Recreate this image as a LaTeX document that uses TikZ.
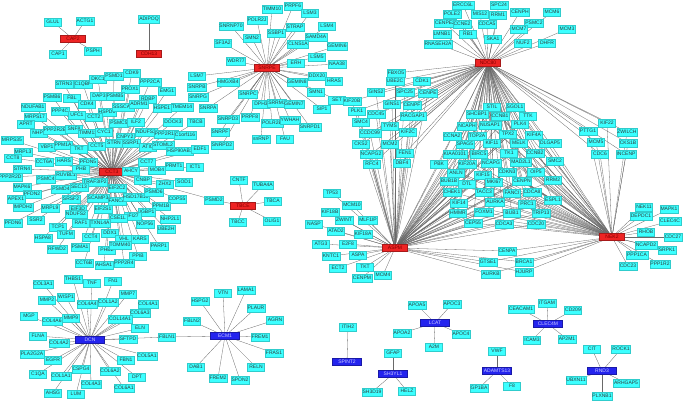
\documentclass[tikz,border=0pt]{standalone}
\usepackage{fontspec}
\setmainfont{Liberation Sans}
\usetikzlibrary{backgrounds}
\definecolor{genecyan}{RGB}{60,255,255}
\definecolor{genetext}{RGB}{50,60,60}
\definecolor{hubred}{RGB}{238,36,36}
\definecolor{hubredtext}{RGB}{130,0,0}
\definecolor{hubblue}{RGB}{36,36,238}
\definecolor{hubbluetext}{RGB}{205,205,255}
\definecolor{linkgray}{RGB}{105,105,105}

\begin{document}
\begin{tikzpicture}[x=1pt, y=-1pt,
    every node/.style = {font=\fontsize{5}{6}\selectfont},
    gene/.style = {draw=genecyan!80!black, line width=0.2pt, fill=genecyan, text=genetext,
        minimum width=17pt, minimum height=7.5pt, inner xsep=0.8pt, inner ysep=0pt},
    hubred/.style = {gene, fill=hubred, draw=hubred!70!black, text=hubredtext, minimum width=25pt, minimum height=7pt},
    hubblue/.style = {gene, fill=hubblue, draw=hubblue!70!black, text=hubbluetext, minimum width=29pt, minimum height=7pt},
    link/.style = {draw=linkgray, line width=0.3pt}]
\useasboundingbox (0,0) rectangle (685,402);

% hubs
\node[hubred] (CAP2) at (73,39) {CAP2};
\node[hubred] (CDH13) at (149,54) {CDH13};
\node[hubred] (SNRPE) at (267,68) {SNRPE};
\node[hubred] (CCT3) at (112,172) {CCT3};
\node[hubred] (TBCE) at (243,206) {TBCE};
\node[hubred] (NDC80) at (488,63) {NDC80};
\node[hubred] (ASPM) at (395,248) {ASPM};
\node[hubred] (NEK2) at (612,237) {NEK2};
\node[hubblue] (DCN) at (90,340) {DCN};
\node[hubblue] (ECM1) at (225,336) {ECM1};
\node[hubblue] (SPINT2) at (347,362) {SPINT2};
\node[hubblue] (LCAT) at (435,323) {LCAT};
\node[hubblue] (SH3YL1) at (393,374) {SH3YL1};
\node[hubblue] (ADAMTS13) at (497,371) {ADAMTS13};
\node[hubblue] (CLEC4M) at (548,324) {CLEC4M};
\node[hubblue] (RND3) at (602,371) {RND3};

% small groups
\foreach \x/\y/\g in {53/22/GLUL, 85/21/ACTG1, 58/54/CAP1, 93/51/PSPH, 149/19/ADIPOQ,
    239/180/CNTF, 263/185/TUBA4A, 273/201/TBCA, 238/222/TBCC, 272/221/OLIG1, 214/200/PSMD2}
    \node[gene] (\g) at (\x,\y) {\g};

% CCT3 group
\foreach \x/\y/\g in {64/84/STRN3, 83/84/C1QBP, 98/79/DKC1, 114/76/PSMD1, 132/73/CDK9,
    150/82/PPP2CA, 130/89/PROX1, 167/91/EMG1, 52/97/PSMB6, 72/98/FBL, 99/96/DAP3,
    115/96/PSMB5, 87/104/CDK4, 148/99/RDBP, 33/107/NDUFAB1, 60/111/PPP4C, 77/115/UFC1,
    107/112/HSPD1, 123/107/SSSCA1, 139/104/ADRM1, 162/108/HSPE1, 182/107/TMEM14,
    35/117/MRPS17, 94/117/CCT2, 119/123/PSMC5, 136/122/ILF2, 173/122/DOCK3, 196/122/TBCB,
    26/124/APRT, 39/133/NHP2, 55/130/PPP2R2B, 74/129/SNF8, 88/133/TIMM13, 104/132/CYC1,
    125/137/CNPY2, 146/132/NDUFS3, 166/134/PPP2R1A, 185/135/C1orf116, 12/140/MRPS35,
    47/147/VBP1, 63/145/PPM1A, 79/149/TKT, 97/146/CCT5, 114/143/STRN, 131/143/SSRP1,
    148/147/ATIC, 163/145/STOML2, 180/151/HSP90AB1, 200/149/EDF1, 23/152/MRPL3,
    13/158/CCT8, 44/162/CCT6A, 64/161/HARS, 88/162/PFDN5, 147/162/CCT7, 131/171/AHCY,
    157/170/MOB4, 174/166/PRMT1, 195/167/ICT1, 22/169/STRN4, 10/177/PPP2R2D,
    46/179/PSMC4, 66/175/RUVBL1, 81/169/PHB, 95/182/TRAF3IP2, 117/188/EIF2C2,
    143/180/CNBP, 165/184/ZHX2, 184/182/SOD1, 22/187/MAPK6, 61/189/PSMD4, 79/187/SEC13,
    32/194/PFDN2, 71/199/SRSF2, 98/198/SCAMP3, 117/201/FANCA, 136/197/HSD17B10,
    154/192/PSMD6, 177/199/COPS5, 16/199/APEX1, 23/207/IMPDH2, 50/208/MRPL9, 78/209/EIF3D,
    103/209/EIF2S1, 161/206/PPM1B, 147/212/IGBP1, 133/216/IFI27, 76/214/NDUFS2,
    118/218/CSE1L, 170/219/NHP2L1, 13/223/PFDN6, 36/220/SSR2, 58/227/TCP1, 81/223/RAF1,
    100/223/TXNL4A, 145/224/NOP56, 166/229/UBE2H, 43/238/HSPA8, 66/234/TUFM, 91/237/CCT4,
    110/233/DDX1, 124/239/VHL, 140/239/KARS, 159/246/PARP1, 57/249/RFWD2, 80/247/PSMA1,
    107/250/PHB2, 120/245/TOMM40, 138/256/PPIB, 84/263/CCT6B, 104/265/AHSA1, 124/263/PPP2R4}
    \node[gene] (\g) at (\x,\y) {\g};

% SNRPE group
\foreach \x/\y/\g in {272/9/TIMM10, 293/6/PRPF6, 310/13/LSM3, 257/20/POLR2J, 231/26/SNRNP70,
    295/27/STRAP, 327/26/LSM4, 252/38/SMN2, 276/33/SSBP1, 316/37/SAMD4A, 223/43/SF3A2,
    298/44/CLNS1A, 337/46/GEMIN6, 236/61/WDR77, 296/63/ERH, 317/57/LSM5, 337/64/NAA38,
    197/76/LSM7, 228/82/HMGXB4, 317/76/DDX20, 297/82/GEMIN8, 334/81/HRAS, 197/87/SNRPB,
    248/94/SNRPC, 316/92/SMN1, 198/97/SNRPG, 208/108/SNRPA, 261/104/DPH3, 277/103/SRRM1,
    294/104/GEMIN7, 337/100/SET, 322/109/SIP1, 228/119/SNRPD3, 250/117/PRPF8,
    272/123/POLR2E, 290/120/YWHAH, 310/127/SNRPD1, 261/139/snRNP, 285/139/FAU,
    220/132/SNRPF, 222/145/SNRPD2}
    \node[gene] (\g) at (\x,\y) {\g};

% NDC80 top
\foreach \x/\y/\g in {463/5/ERCC6L, 499/5/SPC24, 452/14/POLE2, 480/14/MIS12, 498/15/RRM1,
    520/12/CENPH, 552/12/MCM6, 445/23/CENPE2, 462/24/CCNE2, 487/24/CDCA5, 534/23/PSMC2,
    519/29/MCM7, 567/29/MCM3, 442/34/LMNB1, 468/34/RB1, 493/39/SKA1, 523/43/NUF2,
    547/43/DHFR, 438/44/RNASEH2A}
    \node[gene] (\g) at (\x,\y) {\g};

% left of the web
\foreach \x/\y/\g in {396/73/FBXO5, 395/81/UBE2C, 422/81/CDK1, 376/92/GINS2, 405/92/SPC25,
    428/93/CENPE, 352/101/KIF20B, 392/104/GINS1, 412/105/CENPF, 357/111/PLK1, 376/114/CDC45,
    413/116/RACGAP1, 361/122/SMC4, 390/126/TYMS, 370/133/CCDC99, 408/132/KIF2C, 361/144/CKS2,
    390/144/MCM2, 371/154/NCAPG2, 405/153/FEN1, 372/164/RFC4, 402/163/DBF4}
    \node[gene] (\g) at (\x,\y) {\g};

% middle of the web
\foreach \x/\y/\g in {492/107/STIL, 515/107/SGOL1, 477/114/SHCBP1, 500/116/CCNB1, 528/116/TTK,
    467/126/NCAPH, 490/125/NUSAP1, 520/124/PLK4, 452/136/CCNA2, 477/136/TOP2A, 508/134/TPX2,
    534/135/KIF4A, 465/144/SPAG5, 492/143/KIF11, 519/143/MELK, 550/143/DLGAP5,
    455/154/KIAA0101, 479/154/BIRC5, 509/153/TK1, 535/153/CCNB2, 439/164/PBK, 467/164/KIF20A,
    491/163/NCAPG, 521/162/MAD2L1, 555/161/SMC2, 456/173/ANLN, 483/175/KIF15, 507/172/CDKN3,
    536/172/OIP5, 449/181/BUB1B, 467/184/DTL, 494/182/MKI67, 522/181/CENPN, 553/180/RRM2,
    452/192/CHEK1, 484/192/TACC3, 512/193/FANCI, 532/192/CDCA8, 495/202/AURKA, 527/204/PRC1,
    553/200/ESPL1, 459/203/KIF14, 458/213/HMMR, 484/212/FOXM1, 512/213/BUB1, 541/213/TRIP13,
    473/223/CEP55, 504/224/CDCA3, 536/224/CDC20}
    \node[gene] (\g) at (\x,\y) {\g};

% NEK2 group
\foreach \x/\y/\g in {607/123/KIF22, 588/131/PTTG1, 627/132/ZWILCH, 596/142/MCM5, 628/143/CKS1B,
    600/154/CDC6, 626/154/INCENP, 644/207/NEK11, 669/209/MAPK1, 641/216/DEPDC1,
    670/221/CLEC4C, 646/232/RHOB, 673/237/CDC27, 646/245/NCAPD2, 667/250/SRPK1,
    637/255/PPP1CA, 660/264/PPP1R2, 628/266/CDC23}
    \node[gene] (\g) at (\x,\y) {\g};

% ASPM group
\foreach \x/\y/\g in {332/193/TP53, 352/205/MCM10, 330/212/KIF18B, 344/220/ZWINT,
    368/220/MLF1IP, 314/224/NASP, 336/231/ATAD2, 363/234/KIF18A, 321/244/ATG3, 348/244/E2F8,
    331/256/KNTC1, 358/255/ASPA, 338/268/ECT2, 362/278/CENPM, 383/275/MCM4,
    507/251/CENPA, 488/262/GTSE1, 524/262/BRCA1, 491/274/AURKB, 524/272/HJURP}
    \node[gene] (\g) at (\x,\y) {\g};
\node[gene] (TKTb) at (365,267) {TKT};

% DCN and ECM1 groups
\foreach \x/\y/\g in {73/279/THBS1, 92/283/TNF, 113/281/FN1, 43/284/COL3A1, 47/300/MMP2,
    66/297/WISP1, 87/304/COL4A4, 108/302/COL1A2, 128/294/MMP7, 148/304/COL4A1,
    140/313/COL6A3, 29/316/MGP, 52/321/COL4A6, 71/318/MMP9, 120/319/COL14A1, 140/328/ELN,
    38/336/FLNA, 128/339/SFTPD, 167/337/FBLN1, 59/343/COL4A2, 32/354/PLA2G2A, 53/360/EGFR,
    126/360/FBN1, 147/356/COL5A1, 38/374/C1QA, 61/376/COL1A1, 81/369/CSPG4, 110/371/COL6A2,
    137/377/DPT, 91/384/COL4A3, 124/388/COL6A1, 53/393/AHSG, 76/394/LUM,
    223/293/VTN, 246/290/LAMA1, 200/301/HSPG2, 256/308/PLAUR, 275/320/AGRN, 192/321/FBLN2,
    260/337/FREM1, 274/353/FRAS1, 196/367/DAB1, 256/367/RELN, 218/378/FREM2, 240/380/SPON2}
    \node[gene] (\g) at (\x,\y) {\g};

% lower blue groups
\foreach \x/\y/\g in {348/327/ITIH2, 417/305/APOA5, 452/304/APOC3, 402/333/APOA2,
    461/334/APOC4, 434/347/A2M, 393/353/GFAP, 372/392/SH3D19, 407/391/HELZ, 497/351/VWF,
    479/388/GP1BA, 512/386/F8, 547/303/ITGAM, 521/309/CEACAM1, 573/310/CD209, 532/340/ICAM3,
    567/339/AP2M1, 592/349/CIT, 621/349/ROCK1, 576/380/UBXN11, 626/383/ARHGAP5, 602/396/PLXNB1}
    \node[gene] (\g) at (\x,\y) {\g};

\begin{scope}[on background layer]
    \foreach \g in {GLUL, ACTG1, CAP1, PSPH} \draw[link] (CAP2) -- (\g);
    \draw[link] (CDH13) -- (ADIPOQ);
    \foreach \g in {CNTF, TUBA4A, TBCA, TBCC, OLIG1, PSMD2} \draw[link] (TBCE) -- (\g);
    \foreach \g in {STRN3, C1QBP, DKC1, PSMD1, CDK9, PPP2CA, PROX1, EMG1, PSMB6, FBL, DAP3,
        PSMB5, CDK4, RDBP, NDUFAB1, PPP4C, UFC1, HSPD1, SSSCA1, ADRM1, HSPE1, TMEM14, MRPS17,
        CCT2, PSMC5, ILF2, DOCK3, TBCB, APRT, NHP2, PPP2R2B, SNF8, TIMM13, CYC1, CNPY2, NDUFS3,
        PPP2R1A, C1orf116, MRPS35, VBP1, PPM1A, TKT, CCT5, STRN, SSRP1, ATIC, STOML2, HSP90AB1,
        EDF1, MRPL3, CCT8, CCT6A, HARS, PFDN5, CCT7, AHCY, MOB4, PRMT1, ICT1, STRN4, PPP2R2D,
        PSMC4, RUVBL1, PHB, TRAF3IP2, EIF2C2, CNBP, ZHX2, SOD1, MAPK6, PSMD4, SEC13, PFDN2,
        SRSF2, SCAMP3, FANCA, HSD17B10, PSMD6, COPS5, APEX1, IMPDH2, MRPL9, EIF3D, EIF2S1,
        PPM1B, IGBP1, IFI27, NDUFS2, CSE1L, NHP2L1, PFDN6, SSR2, TCP1, RAF1, TXNL4A, NOP56,
        UBE2H, HSPA8, TUFM, CCT4, DDX1, VHL, KARS, PARP1, RFWD2, PSMA1, PHB2, TOMM40, PPIB,
        CCT6B, AHSA1, PPP2R4, PSMD2}
        \draw[link] (CCT3) -- (\g);
    \foreach \g in {TIMM10, PRPF6, LSM3, POLR2J, SNRNP70, STRAP, LSM4, SMN2, SSBP1, SAMD4A,
        SF3A2, CLNS1A, GEMIN6, WDR77, ERH, LSM5, NAA38, LSM7, HMGXB4, DDX20, GEMIN8, HRAS,
        SNRPB, SNRPC, SMN1, SNRPG, SNRPA, DPH3, SRRM1, GEMIN7, SET, SIP1, SNRPD3, PRPF8,
        POLR2E, YWHAH, SNRPD1, snRNP, FAU, SNRPF, SNRPD2}
        \draw[link] (SNRPE) -- (\g);
    \foreach \g in {ERCC6L, SPC24, POLE2, MIS12, RRM1, CENPH, MCM6, CENPE2, CCNE2, CDCA5, PSMC2,
        MCM7, MCM3, LMNB1, RB1, SKA1, NUF2, DHFR, RNASEH2A, KIF22, PTTG1, ZWILCH, MCM5, CKS1B,
        CDC6, INCENP}
        \draw[link] (NDC80) -- (\g);
    \foreach \g in {FBXO5, UBE2C, CDK1, GINS2, SPC25, CENPE, KIF20B, GINS1, CENPF, PLK1, CDC45,
        RACGAP1, SMC4, TYMS, CCDC99, KIF2C, CKS2, MCM2, NCAPG2, FEN1, RFC4, DBF4}
        {\draw[link] (NDC80) -- (\g); \draw[link] (ASPM) -- (\g);}
    \foreach \g in {STIL, SGOL1, SHCBP1, CCNB1, TTK, NCAPH, NUSAP1, PLK4, CCNA2, TOP2A, TPX2,
        KIF4A, SPAG5, KIF11, MELK, DLGAP5, KIAA0101, BIRC5, TK1, CCNB2, PBK, KIF20A, NCAPG,
        MAD2L1, SMC2, ANLN, KIF15, CDKN3, OIP5, BUB1B, DTL, MKI67, CENPN, RRM2, CHEK1, TACC3,
        FANCI, CDCA8, AURKA, PRC1, ESPL1, KIF14, HMMR, FOXM1, BUB1, TRIP13, CEP55, CDCA3, CDC20}
        {\draw[link] (NDC80) -- (\g); \draw[link] (ASPM) -- (\g); \draw[link] (NEK2) -- (\g);}
    \foreach \g in {KIF22, PTTG1, ZWILCH, MCM5, CKS1B, CDC6, INCENP, NEK11, MAPK1, DEPDC1,
        CLEC4C, RHOB, CDC27, NCAPD2, SRPK1, PPP1CA, PPP1R2, CDC23}
        \draw[link] (NEK2) -- (\g);
    \foreach \g in {TP53, MCM10, KIF18B, ZWINT, MLF1IP, NASP, ATAD2, KIF18A, ATG3, E2F8, KNTC1,
        ASPA, ECT2, TKTb, CENPM, MCM4}
        \draw[link] (ASPM) -- (\g);
    \foreach \g in {CENPA, GTSE1, BRCA1, AURKB, HJURP}
        {\draw[link] (ASPM) -- (\g); \draw[link] (NEK2) -- (\g);}
    \foreach \g in {THBS1, TNF, FN1, COL3A1, MMP2, WISP1, COL4A4, COL1A2, MMP7, COL4A1, COL6A3,
        MGP, COL4A6, MMP9, COL14A1, ELN, FLNA, SFTPD, FBLN1, COL4A2, PLA2G2A, EGFR, FBN1, COL5A1,
        C1QA, COL1A1, CSPG4, COL6A2, DPT, COL4A3, COL6A1, AHSG, LUM}
        \draw[link] (DCN) -- (\g);
    \foreach \g in {VTN, LAMA1, HSPG2, PLAUR, AGRN, FBLN2, FREM1, FRAS1, DAB1, RELN, FREM2,
        SPON2, FBLN1}
        \draw[link] (ECM1) -- (\g);
    \draw[link] (SPINT2) -- (ITIH2);
    \foreach \g in {APOA5, APOC3, APOA2, APOC4, A2M} \draw[link] (LCAT) -- (\g);
    \foreach \g in {GFAP, SH3D19, HELZ} \draw[link] (SH3YL1) -- (\g);
    \foreach \g in {VWF, GP1BA, F8} \draw[link] (ADAMTS13) -- (\g);
    \foreach \g in {ITGAM, CEACAM1, CD209, ICAM3, AP2M1} \draw[link] (CLEC4M) -- (\g);
    \foreach \g in {CIT, ROCK1, UBXN11, ARHGAP5, PLXNB1} \draw[link] (RND3) -- (\g);
\end{scope}
\end{tikzpicture}
\end{document}
